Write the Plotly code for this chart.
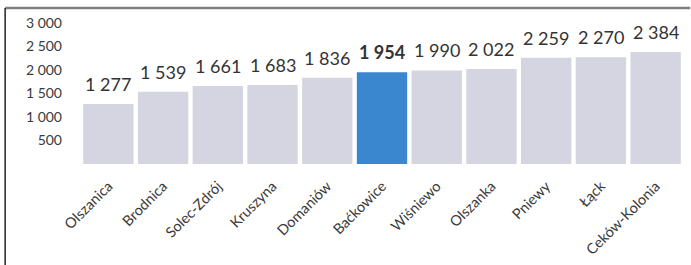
import plotly.graph_objects as go

categories = ["Olszanica", "Brodnica", "Solec-Zdrój", "Kruszyna", "Domaniów",
              "Baćkowice", "Wiśniewo", "Olszanka", "Pniewy", "Łąck", "Ceków-Kolonia"]
values = [1277, 1539, 1661, 1683, 1836, 1954, 1990, 2022, 2259, 2270, 2384]
highlight = "Baćkowice"
y_tickvals = [500, 1000, 1500, 2000, 2500, 3000]
y_ticktext = ["500", "1 000", "1 500", "2 000", "2 500", "3 000"]

GRAY = "#d5d5e1"
BLUE = "#3a86cf"
FONT = "Lato, 'Open Sans', sans-serif"

colors = [BLUE if c == highlight else GRAY for c in categories]

fig = go.Figure(go.Bar(x=categories, y=values, marker=dict(color=colors, line=dict(width=0)),
                       hoverinfo="skip"))

for c, v in zip(categories, values):
    txt = f"{v:,}".replace(",", " ")
    fig.add_annotation(x=c, y=v, text=f"<b>{txt}</b>" if c == highlight else txt,
                       showarrow=False, yanchor="bottom", yshift=7,
                       font=dict(family=FONT, size=18, color="#333333"))

fig.update_layout(
    width=691, height=265,
    margin=dict(l=81, r=8, t=23, b=101, autoexpand=False),
    paper_bgcolor="white", plot_bgcolor="white",
    bargap=0.08, showlegend=False,
    font=dict(family=FONT, color="#3a3a3a"),
    xaxis=dict(tickangle=-45, tickfont=dict(size=14.5, color="#3a3a3a"),
               showgrid=False, showline=False, ticks="", automargin=False,
               ticklabelstandoff=10),
    yaxis=dict(range=[0, 3000], tickvals=y_tickvals, ticktext=y_ticktext,
               tickfont=dict(size=14, color="#3a3a3a"), showgrid=False,
               zeroline=False, showline=False, ticks="", ticklabelstandoff=18,
               automargin=False),
    shapes=[
        dict(type="line", xref="paper", yref="paper", x0=-0.126, x1=1.012,
             y0=1.106, y1=1.106, line=dict(color="#808080", width=2.5)),
        dict(type="line", xref="paper", yref="paper", x0=-0.126, x1=-0.126,
             y0=1.106, y1=-0.75, line=dict(color="#222222", width=1.5)),
    ],
)

fig.write_html("out.html", config={"displayModeBar": False},
               post_script="document.body.style.margin='0';")
